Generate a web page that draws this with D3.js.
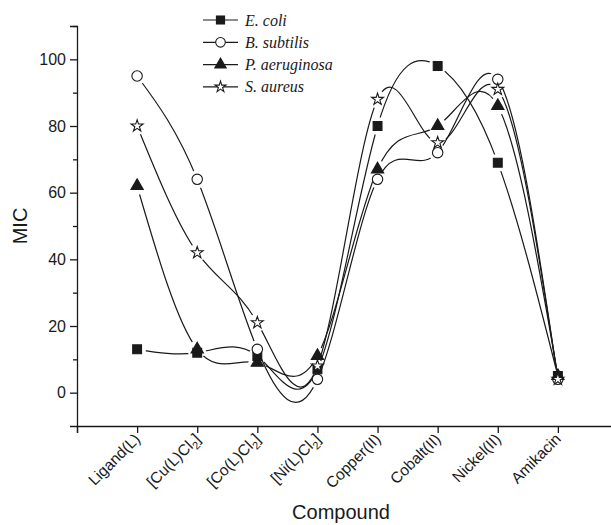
<!DOCTYPE html>
<html>
<head>
<meta charset="utf-8">
<script src="https://cdn.jsdelivr.net/npm/d3@7"></script>
<style>
  body { margin: 0; background: #fff; }
  svg { display: block; font-family: "Liberation Sans", Arial, sans-serif; }
</style>
</head>
<body>
<div id="chart"></div>
<script>
// compounds along the x axis, [label, subscript, closing]
var compounds = [
  ["Ligand(L)", ""],
  ["[Cu(L)Cl", "2", "]"],
  ["[Co(L)Cl", "2", "]"],
  ["[Ni(L)Cl", "2", "]"],
  ["Copper(II)", ""],
  ["Cobalt(II)", ""],
  ["Nickel(II)", ""],
  ["Amikacin", ""]
];

var seriesNames = ["E. coli", "B. subtilis", "P. aeruginosa", "S. aureus"];
var ecoli       = [13, 12, 11, 7, 80, 98, 69, 5];
var bsubtilis   = [95, 64, 13, 4, 64, 72, 94, 4];
var paeruginosa = [62, 13, 9, 11, 67, 80, 86, 5];
var saureus     = [80, 42, 21, 8, 88, 75, 91, 4];
var yTicks = [0, 20, 40, 60, 80, 100];

var width = 611, height = 525;
var ink = "#1a1a1a";

var svg = d3.select("#chart").append("svg")
    .attr("width", width)
    .attr("height", height);

var x = d3.scaleLinear().domain([-1, 8]).range([77, 618]);
var y = d3.scaleLinear().domain([-10, 110]).range([426, 26]);

// axes
var xAxis = svg.append("g")
    .attr("transform", "translate(0," + y(-10) + ")")
    .call(d3.axisBottom(x).tickValues(d3.range(-1, 8)).tickSize(7).tickFormat(""));
xAxis.select(".domain").attr("stroke", ink).attr("stroke-width", 1.3);
xAxis.selectAll(".tick line").attr("stroke", ink).attr("stroke-width", 1.3);

var yAxis = svg.append("g")
    .attr("transform", "translate(" + x(-1) + ",0)")
    .call(d3.axisLeft(y).tickValues(yTicks).tickSize(7).tickPadding(4));
yAxis.select(".domain").attr("stroke", ink).attr("stroke-width", 1.3);
yAxis.selectAll(".tick line").attr("stroke", ink).attr("stroke-width", 1.3);
yAxis.selectAll(".tick text").attr("fill", ink).style("font-size", "16px")
    .style("font-family", "'Liberation Sans', Arial, sans-serif");

// minor y ticks
svg.append("g")
    .attr("transform", "translate(" + x(-1) + ",0)")
    .call(d3.axisLeft(y).tickValues([10, 30, 50, 70, 90, 110]).tickSize(4).tickFormat(""))
    .call(function(g) { g.select(".domain").remove(); })
    .selectAll(".tick line").attr("stroke", ink).attr("stroke-width", 1.3);

// x tick labels, rotated
var xl = svg.append("g").selectAll("text")
    .data(compounds)
    .enter().append("text")
    .attr("transform", function(d, i) { return "translate(" + (x(i) + 4) + "," + (y(-10) + 14) + ") rotate(-45)"; })
    .attr("text-anchor", "end")
    .attr("fill", ink)
    .style("font-size", "15.5px");
xl.each(function(d) {
  var t = d3.select(this);
  t.append("tspan").text(d[0]);
  if (d[1]) {
    t.append("tspan").attr("dy", 4).style("font-size", "11px").text(d[1]);
    t.append("tspan").attr("dy", -4).text(d[2]);
  }
});

// axis titles
svg.append("text")
    .attr("x", 341).attr("y", 519)
    .attr("text-anchor", "middle")
    .attr("fill", ink)
    .style("font-size", "20px")
    .text("Compound");

svg.append("text")
    .attr("transform", "translate(27," + y(50) + ") rotate(-90)")
    .attr("text-anchor", "middle")
    .attr("fill", ink)
    .style("font-size", "20px")
    .text("MIC");

// series
var series = [
  { name: seriesNames[0], values: ecoli,       sym: d3.symbolSquare,   size: 78, fill: ink },
  { name: seriesNames[1], values: bsubtilis,   sym: d3.symbolCircle,   size: 85, fill: "#fff" },
  { name: seriesNames[2], values: paeruginosa, sym: d3.symbolTriangle, size: 66, fill: ink },
  { name: seriesNames[3], values: saureus,     sym: d3.symbolStar,     size: 44, fill: "#fff" }
];

var line = d3.line()
    .x(function(d, i) { return x(i); })
    .y(function(d) { return y(d); })
    .curve(d3.curveNatural);

var defs = svg.append("defs");

series.forEach(function(s, k) {
  // gap round each own marker, like the original plot
  var mask = defs.append("mask").attr("id", "gap" + k)
      .attr("maskUnits", "userSpaceOnUse")
      .attr("x", 0).attr("y", 0).attr("width", width).attr("height", height);
  mask.append("rect").attr("width", width).attr("height", height).attr("fill", "#fff");
  mask.selectAll("circle").data(s.values).enter().append("circle")
      .attr("cx", function(d, i) { return x(i); })
      .attr("cy", function(d) { return y(d); })
      .attr("r", 9)
      .attr("fill", "#000");

  svg.append("path")
      .datum(s.values)
      .attr("d", line)
      .attr("fill", "none")
      .attr("stroke", ink)
      .attr("stroke-width", 1.2)
      .attr("mask", "url(#gap" + k + ")");
});

series.forEach(function(s) {
  svg.append("g").selectAll("path")
      .data(s.values)
      .enter().append("path")
      .attr("transform", function(d, i) { return "translate(" + x(i) + "," + y(d) + ")"; })
      .attr("d", d3.symbol().type(s.sym).size(s.size))
      .attr("fill", s.fill)
      .attr("stroke", ink)
      .attr("stroke-width", 1.1);
});

// legend
var legend = svg.append("g").selectAll("g")
    .data(series)
    .enter().append("g")
    .attr("transform", function(d, i) { return "translate(0," + (20 + i * 22.3) + ")"; });

legend.append("line")
    .attr("x1", 203).attr("x2", 238)
    .attr("stroke", ink).attr("stroke-width", 1.2);
legend.append("path")
    .attr("transform", "translate(220.5,0)")
    .attr("d", function(d) { return d3.symbol().type(d.sym).size(d.size * 0.85)(); })
    .attr("fill", function(d) { return d.fill; })
    .attr("stroke", ink).attr("stroke-width", 1.1);
legend.append("text")
    .attr("x", 245).attr("y", 5.5)
    .attr("fill", ink)
    .style("font-family", "'Liberation Serif', 'Times New Roman', serif")
    .style("font-style", "italic")
    .style("font-size", "16px")
    .text(function(d) { return d.name; });
</script>
</body>
</html>
